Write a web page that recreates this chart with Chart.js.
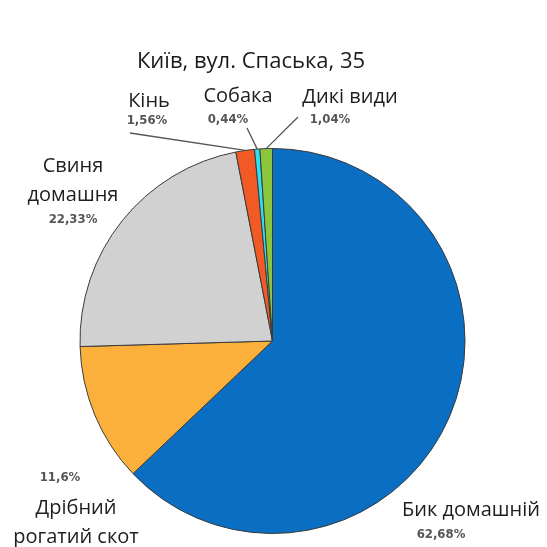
<!DOCTYPE html>
<html>
<head>
<meta charset="utf-8">
<script src="https://cdn.jsdelivr.net/npm/chart.js@4"></script>
<style>
html,body{margin:0;padding:0;background:#fff;}
#wrap{width:547px;height:547px;}
</style>
</head>
<body>
<div id="wrap"><canvas id="c" width="547" height="547"></canvas></div>
<script>
const titleText = 'Київ, вул. Спаська, 35';
const categories = ['Бик домашній', 'Дрібний рогатий скот', 'Свиня домашня', 'Кінь', 'Собака', 'Дикі види'];
const values = [62.68, 11.6, 22.33, 1.56, 0.44, 1.04];
const percentLabels = ['62,68%', '11,6%', '22,33%', '1,56%', '0,44%', '1,04%'];
const colors = ['#0A6FC2', '#FBB03B', '#D1D1D1', '#F15A24', '#2FE0F0', '#8CC63F'];

// label layout: name lines, name positions, percent position, optional leader start
const labelLayout = [
  {lines: ['Бик домашній'], x: 471, y: [510], px: 441, py: 535, size: 20},
  {lines: ['Дрібний', 'рогатий скот'], x: 76, y: [508, 537], px: 60, py: 478, size: 20},
  {lines: ['Свиня', 'домашня'], x: 73, y: [166, 195], px: 73, py: 220, size: 20},
  {lines: ['Кінь'], x: 149, y: [101], px: 147, py: 121, lx: 130, ly: 133, size: 20},
  {lines: ['Собака'], x: 238, y: [96], px: 228, py: 120, lx: 247, ly: 128, size: 20},
  {lines: ['Дикі види'], x: 350, y: [97], px: 330, py: 120, lx: 298, ly: 117, size: 20}
];

const labelPlugin = {
  id: 'labelPlugin',
  afterDraw(chart) {
    const ctx = chart.ctx;
    ctx.save();
    ctx.textAlign = 'center';
    ctx.textBaseline = 'middle';
    ctx.fillStyle = '#1a1a1a';
    ctx.font = '22px "Open Sans"';
    ctx.fillText(titleText, 251, 62);
    const arcs = chart.getDatasetMeta(0).data;
    labelLayout.forEach((L, i) => {
      ctx.fillStyle = '#1e1e1e';
      ctx.font = L.size + 'px "Open Sans"';
      L.lines.forEach((t, k) => ctx.fillText(t, L.x, L.y[k]));
      ctx.fillStyle = '#555';
      ctx.font = 'bold 13px "DejaVu Sans Condensed"';
      ctx.fillText(percentLabels[i], L.px, L.py);
      if (L.lx !== undefined) {
        const a = arcs[i];
        const p = a.getProps(['x', 'y', 'startAngle', 'endAngle', 'outerRadius'], true);
        const mid = (p.startAngle + p.endAngle) / 2;
        const ex = p.x + Math.cos(mid) * p.outerRadius;
        const ey = p.y + Math.sin(mid) * p.outerRadius;
        ctx.strokeStyle = '#555';
        ctx.lineWidth = 1.3;
        ctx.beginPath();
        ctx.moveTo(L.lx, L.ly);
        ctx.lineTo(ex, ey);
        ctx.stroke();
      }
    });
    ctx.restore();
  }
};

new Chart(document.getElementById('c'), {
  type: 'pie',
  data: {
    labels: categories,
    datasets: [{
      data: values,
      backgroundColor: colors,
      borderColor: '#3a3a3a',
      borderWidth: 1
    }]
  },
  options: {
    responsive: false,
    animation: false,
    layout: {padding: {top: 148, bottom: 13, left: 79, right: 81}},
    plugins: {
      legend: {display: false},
      tooltip: {enabled: false},
      title: {display: false}
    }
  },
  plugins: [labelPlugin]
});
</script>
</body>
</html>
